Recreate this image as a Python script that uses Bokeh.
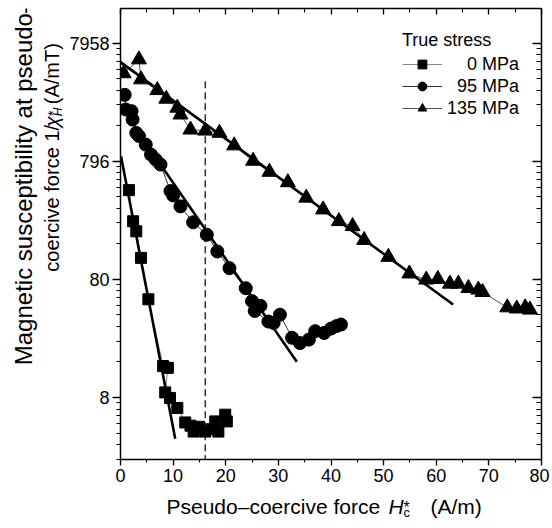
import math
from bokeh.plotting import figure
from bokeh.layouts import row, column
from bokeh.models import (Range1d, LogAxis, LinearAxis, FixedTicker, SingleIntervalTicker,
                          Label, Legend, LegendItem)
from bokeh.embed import file_html
from bokeh.resources import INLINE

# ---------------- data ----------------
# 0 MPa (squares)
x_0 = [1.6, 2.4, 3.0, 3.9, 5.3, 8.1, 9.0, 8.5, 9.4, 10.8, 12.3, 13.3, 13.9, 14.9,
       16.1, 17.4, 18.0, 18.6, 19.9, 20.2]
y_0 = [453, 247, 203, 121, 54, 14.7, 14.2, 8.8, 7.9, 6.5, 4.9, 4.6, 4.1, 4.5,
       4.1, 4.3, 5.0, 4.1, 5.7, 5.0]
# 95 MPa (circles)
x_95 = [0.8, 1.0, 2.1, 2.3, 3.0, 3.5, 4.8, 5.8, 6.7, 7.6, 9.5, 10.0, 11.4, 13.8,
        16.4, 18.4, 20.7, 23.8, 25.0, 26.6, 25.5, 28.1, 29.1, 30.3, 32.6, 34.1,
        35.8, 37.0, 38.7, 40.0, 41.0, 41.9]
y_95 = [2900, 2180, 2110, 1790, 1380, 1300, 1100, 905, 820, 745, 445, 408, 330, 242,
        190, 137, 99, 67, 52, 47.5, 43, 35, 34, 40, 25.5, 23,
        24.6, 29, 28, 30.5, 32, 33]
# 135 MPa (triangles)
x_135 = [0.6, 3.5, 3.9, 7.0, 8.7, 10.8, 11.4, 13.3, 16.1, 18.8, 21.6, 25.2, 28.3,
         31.8, 35.3, 38.5, 41.5, 44.1, 46.3, 50.9, 54.9, 58.1, 60.3, 62.6, 64.2,
         66.1, 68.0, 68.8, 73.5, 75.3, 76.9, 77.8]
y_135 = [4400, 5770, 3910, 3170, 2680, 2250, 1970, 1470, 1440, 1380, 1080, 800, 645,
         527, 390, 310, 247, 224, 171, 123, 89, 79, 80, 73, 73,
         67, 65, 62, 46, 45, 46, 44]

# straight-line fits (end points)
fit_0_x, fit_0_y = [0.1, 10.4], [876, 3.56]
fit_95_x, fit_95_y = [7.6, 33.5], [745, 16.0]
fit_135_x, fit_135_y = [0.0, 63.2], [5480, 48.8]

# dashed marker line
dash_x = [16.1, 16.1]
dash_y = [3780, 2.38]

series_labels = ["0 MPa", "95 MPa", "135 MPa"]
legend_title = "True stress"

y_tick_values = [7.958, 79.58, 795.8, 7958]
y_tick_labels = ["8", "80", "796", "7958"]
x_tick_interval = 10

X0, X1 = 0, 80
Y0, Y1 = 2.38, 15590

FONT = "Liberation Sans"

# ---------------- layout sizes ----------------
YT_W = 64            # width of the strip holding the y title
FW, FH = 421, 451    # plot frame
BL, BT, BR, BB = 56, 8, 8, 31
MAIN_W = BL + FW + BR
MAIN_H = BT + FH + BB
XT_H = 34            # height of the strip holding the x title
TOTAL_W = YT_W + MAIN_W


def blank(w, h):
    f = figure(width=w, height=h, x_range=Range1d(0, w), y_range=Range1d(0, h),
               min_border=0, toolbar_location=None, output_backend="svg")
    f.axis.visible = False
    f.grid.visible = False
    f.outline_line_color = None
    f.background_fill_color = "white"
    f.border_fill_color = "white"
    return f


# ---------------- main figure ----------------
p = figure(frame_width=FW, frame_height=FH, y_axis_type="log",
           x_range=Range1d(X0, X1), y_range=Range1d(Y0, Y1),
           output_backend="svg", toolbar_location=None,
           min_border_left=BL, min_border_top=BT, min_border_right=BR,
           min_border_bottom=BB)
p.grid.visible = False
p.outline_line_color = None
p.background_fill_color = "white"
p.border_fill_color = "white"

minor = []
for base in [0.7958, 7.958, 79.58, 795.8, 7958]:
    for k in range(2, 10):
        minor.append(base * k)
y_ticker = FixedTicker(ticks=y_tick_values, minor_ticks=minor)
x_ticker = SingleIntervalTicker(interval=x_tick_interval, num_minor_ticks=2)

overrides = {v: l for v, l in zip(y_tick_values, y_tick_labels)}

xa = p.xaxis[0]
xa.ticker = x_ticker
ya = p.yaxis[0]
ya.ticker = y_ticker
ya.major_label_overrides = overrides

for ax in (xa, ya):
    ax.axis_line_width = 1.5
    ax.axis_line_color = "black"
    ax.major_tick_line_width = 1.3
    ax.minor_tick_line_width = 1.1
    ax.major_tick_in = 0
    ax.minor_tick_in = 0
    ax.major_label_text_font = FONT
    ax.major_label_text_font_size = "18px"
    ax.major_label_text_color = "black"
xa.major_tick_out = 6
xa.minor_tick_out = 3
xa.major_label_standoff = 3
ya.major_tick_out = 8
ya.minor_tick_out = 4
ya.major_label_standoff = 3

top = LinearAxis(ticker=SingleIntervalTicker(interval=x_tick_interval, num_minor_ticks=2))
right = LogAxis(ticker=FixedTicker(ticks=y_tick_values, minor_ticks=minor))
for ax, mi, mn in ((top, 6, 4), (right, 9, 5)):
    ax.axis_line_width = 1.5
    ax.major_tick_line_width = 1.3
    ax.minor_tick_line_width = 1.1
    ax.major_tick_out = 0
    ax.minor_tick_out = 0
    ax.major_tick_in = mi
    ax.minor_tick_in = mn
    ax.major_label_text_font_size = "1px"
    ax.major_label_text_color = None
    ax.major_label_standoff = 0
p.add_layout(top, "above")
p.add_layout(right, "right")

# dashed vertical line
p.line(dash_x, dash_y, line_color="black", line_width=1.2, line_dash="7 4")

# connecting lines + markers
l0 = p.line(x_0, y_0, line_color="#888888", line_width=1)
s0 = p.scatter(x_0, y_0, marker="square", size=11, fill_color="black", line_color="black")
l95 = p.line(x_95, y_95, line_color="#333333", line_width=1)
s95 = p.scatter(x_95, y_95, marker="circle", size=13, fill_color="black", line_color="black")
l135 = p.line(x_135, y_135, line_color="#555555", line_width=1)
s135 = p.scatter(x_135, y_135, marker="triangle", size=15, fill_color="black", line_color="black")

# fits
for fx, fy in ((fit_0_x, fit_0_y), (fit_95_x, fit_95_y), (fit_135_x, fit_135_y)):
    p.line(fx, fy, line_color="black", line_width=2.6)

# legend
pad = ["\u2007\u2007", "\u2007", ""]
items = [LegendItem(label=pd + lb, renderers=[l, s])
         for pd, lb, l, s in zip(pad, series_labels, (l0, l95, l135), (s0, s95, s135))]
leg = Legend(items=items, title=legend_title, location="top_right",
             margin=22, padding=4, glyph_width=40, glyph_height=22, label_height=22,
             label_standoff=5, spacing=0, title_standoff=2,
             label_text_font=FONT, label_text_font_size="18px", label_text_color="black",
             title_text_font=FONT, title_text_font_size="18px", title_text_color="black",
             title_text_font_style="normal",
             border_line_color=None, background_fill_alpha=0)
p.add_layout(leg)

# ---------------- axis titles (text strips beside / below the plot) ----------------
yfig = blank(YT_W, MAIN_H)
xfig = blank(TOTAL_W, XT_H)


def ylab(text, px, py, size, style="normal", align="left"):
    yfig.add_layout(Label(x=px, y=MAIN_H - py, text=text, angle=math.pi / 2,
                          text_font=FONT, text_font_size=f"{size}px",
                          text_font_style=style, text_align=align,
                          text_baseline="alphabetic", text_color="black"))


def xlab(text, px, py, size, style="normal"):
    xfig.add_layout(Label(x=px, y=MAIN_H + XT_H - py, text=text,
                          text_font=FONT, text_font_size=f"{size}px",
                          text_font_style=style, text_align="left",
                          text_baseline="alphabetic", text_color="black"))


# y title, line 1 (centred) and line 2 (pieces)
ylab("Magnetic susceptibility at pseudo\u2013", 23, 189, 24, align="center")
ylab("coercive force 1/", 51, 286, 20)
ylab("\u03c7", 51, 129, 20, style="italic")
ylab("H", 57, 117, 12, style="italic")
ylab("*", 52, 117, 15)
ylab("(A/mT)", 51, 104, 20)

# x title
xlab("Pseudo\u2013coercive force", 166, 506, 21)
xlab("H", 388, 506, 21, style="italic")
xlab("c", 403, 512, 13)
xlab("*", 403, 507, 16)
xlab("(A/m)", 430, 506, 21)

layout = column(row(yfig, p), xfig)
open("out.html", "w").write(file_html(layout, INLINE))
